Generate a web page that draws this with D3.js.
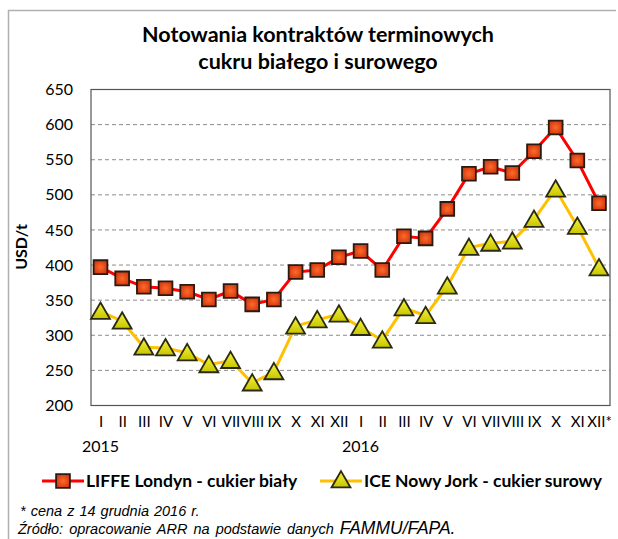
<!DOCTYPE html>
<html>
<head>
<meta charset="utf-8">
<script src="https://cdn.jsdelivr.net/npm/d3@7"></script>
<style>
  body { margin: 0; background: #fff; }
  svg text { font-family: Lato, "Open Sans", sans-serif; }
</style>
</head>
<body>
<svg width="618" height="539"></svg>
<script>
// month labels, two years
var months = ["I", "II", "III", "IV", "V", "VI", "VII", "VIII", "IX", "X", "XI", "XII",
              "I", "II", "III", "IV", "V", "VI", "VII", "VIII", "IX", "X", "XI", "XII*"];
var years = [{ label: "2015", at: 0 }, { label: "2016", at: 12 }];

var liffe = [397, 381, 369, 367, 362, 351, 363, 344, 351, 390, 393, 411,
             420, 393, 441, 438, 480, 530, 540, 531, 562, 596, 549, 488];
var ice = [334, 320, 283, 282, 275, 258, 264, 232, 248, 313, 322, 330,
           311, 293, 339, 328, 370, 425, 431, 434, 465, 508, 455, 396];

var yTicks = [200, 250, 300, 350, 400, 450, 500, 550, 600, 650];

var svg = d3.select("svg");

// outer frame (top + left only visible)
svg.append("path")
    .attr("d", "M8.5,545 L8.5,10.5 L616,10.5")
    .attr("fill", "none")
    .attr("stroke", "#b0b0b0")
    .attr("stroke-width", 1.5);

var plotLeft = 91, plotRight = 610, plotTop = 89.5, plotBottom = 405.5;

var x = d3.scalePoint()
    .domain(d3.range(months.length))
    .range([100.5, 599]);

var y = d3.scaleLinear()
    .domain([200, 650])
    .range([plotBottom, plotTop]);

// title
var title = svg.append("text")
    .attr("text-anchor", "middle")
    .attr("font-weight", "bold")
    .attr("font-size", 21.5);
title.append("tspan").attr("x", 318).attr("y", 42).text("Notowania kontraktów terminowych");
title.append("tspan").attr("x", 318).attr("y", 69).text("cukru białego i surowego");

// gridlines
svg.append("g")
    .selectAll("line")
    .data(yTicks.filter(function (d) { return d > 200 && d < 650; }))
    .join("line")
    .attr("x1", plotLeft).attr("x2", plotRight)
    .attr("y1", function (d) { return y(d); })
    .attr("y2", function (d) { return y(d); })
    .attr("stroke", "#8c8c8c")
    .attr("stroke-dasharray", "4,3");

// plot border
svg.append("rect")
    .attr("x", plotLeft).attr("y", plotTop)
    .attr("width", plotRight - plotLeft).attr("height", plotBottom - plotTop)
    .attr("fill", "none")
    .attr("stroke", "#555")
    .attr("stroke-width", 1.2);

// y axis
var yAxis = svg.append("g")
    .attr("transform", "translate(" + plotLeft + ",0)")
    .call(d3.axisLeft(y).tickValues(yTicks).tickSize(0).tickPadding(18));
yAxis.select(".domain").remove();
yAxis.selectAll("text")
    .attr("font-size", 16)
    .attr("fill", "#000")
    .style("font-family", "Lato, sans-serif");

svg.append("text")
    .attr("transform", "translate(27,247) rotate(-90)")
    .attr("text-anchor", "middle")
    .attr("font-weight", "bold")
    .attr("font-size", 16)
    .text("USD/t");

// x axis labels
var xAxis = svg.append("g")
    .attr("transform", "translate(0," + plotBottom + ")")
    .call(d3.axisBottom(x).tickSize(0).tickPadding(11)
        .tickFormat(function (i) { return months[i]; }));
xAxis.select(".domain").remove();
xAxis.selectAll("text")
    .attr("font-size", 15)
    .attr("fill", "#000")
    .style("font-family", "Lato, sans-serif");

svg.append("g")
    .selectAll("text")
    .data(years)
    .join("text")
    .attr("x", function (d) { return x(d.at); })
    .attr("y", 452)
    .attr("text-anchor", "middle")
    .attr("font-size", 16)
    .text(function (d) { return d.label; });

// gradients for markers
var defs = svg.append("defs");
var rg = defs.append("radialGradient").attr("id", "sq").attr("cx", "50%").attr("cy", "50%").attr("r", "70%");
rg.append("stop").attr("offset", "0%").attr("stop-color", "#ff6a2a");
rg.append("stop").attr("offset", "100%").attr("stop-color", "#c42a08");
var tg = defs.append("linearGradient").attr("id", "tri").attr("x1", 0).attr("y1", 0).attr("x2", 0).attr("y2", 1);
tg.append("stop").attr("offset", "0%").attr("stop-color", "#f4f43a");
tg.append("stop").attr("offset", "100%").attr("stop-color", "#c8c400");

var line = d3.line()
    .x(function (d, i) { return x(i); })
    .y(function (d) { return y(d); });

svg.append("path")
    .datum(liffe)
    .attr("d", line)
    .attr("fill", "none")
    .attr("stroke", "#ff0000")
    .attr("stroke-width", 3);

svg.append("path")
    .datum(ice)
    .attr("d", line)
    .attr("fill", "none")
    .attr("stroke", "#ffc000")
    .attr("stroke-width", 3);

var square = d3.symbol().type(d3.symbolSquare).size(190);
var triangle = d3.symbol().type(d3.symbolTriangle).size(155);

function drawSquares(sel) {
    sel.attr("d", square)
        .attr("fill", "url(#sq)")
        .attr("stroke", "#2a1a10")
        .attr("stroke-width", 1.8);
}
function drawTriangles(sel) {
    sel.attr("d", triangle)
        .attr("fill", "url(#tri)")
        .attr("stroke", "#2a2a10")
        .attr("stroke-width", 1.8);
}

svg.append("g")
    .selectAll("path")
    .data(ice)
    .join("path")
    .attr("transform", function (d, i) { return "translate(" + x(i) + "," + (y(d) + 2) + ")"; })
    .call(drawTriangles);

svg.append("g")
    .selectAll("path")
    .data(liffe)
    .join("path")
    .attr("transform", function (d, i) { return "translate(" + x(i) + "," + y(d) + ")"; })
    .call(drawSquares);

// legend
var legend = svg.append("g");
legend.append("line").attr("x1", 42).attr("x2", 84).attr("y1", 481).attr("y2", 481)
    .attr("stroke", "#ff0000").attr("stroke-width", 3);
legend.append("path").attr("transform", "translate(63,481)").call(drawSquares);
legend.append("text").attr("x", 86).attr("y", 487)
    .attr("font-weight", "bold").attr("font-size", 17.5)
    .text("LIFFE Londyn - cukier biały");

legend.append("line").attr("x1", 320).attr("x2", 362).attr("y1", 481).attr("y2", 481)
    .attr("stroke", "#ffc000").attr("stroke-width", 3);
legend.append("path").attr("transform", "translate(341,482)").call(drawTriangles);
legend.append("text").attr("x", 364).attr("y", 487)
    .attr("font-weight", "bold").attr("font-size", 17.5)
    .text("ICE Nowy Jork - cukier surowy");

// footnotes
svg.append("text")
    .attr("x", 20).attr("y", 516)
    .attr("font-style", "italic")
    .attr("font-size", 14.5)
    .style("font-family", "'Liberation Sans', Arial, sans-serif")
    .style("word-spacing", "1px")
    .text("* cena z 14 grudnia  2016 r.");

var src = svg.append("text")
    .attr("x", 18).attr("y", 534)
    .attr("font-style", "italic")
    .attr("font-size", 14.5)
    .style("font-family", "'Liberation Sans', Arial, sans-serif")
    .style("word-spacing", "2px");
src.append("tspan").text("Źródło: opracowanie  ARR na podstawie  danych  ");
src.append("tspan").attr("font-size", 17.5).text("FAMMU/FAPA.");
</script>
</body>
</html>
